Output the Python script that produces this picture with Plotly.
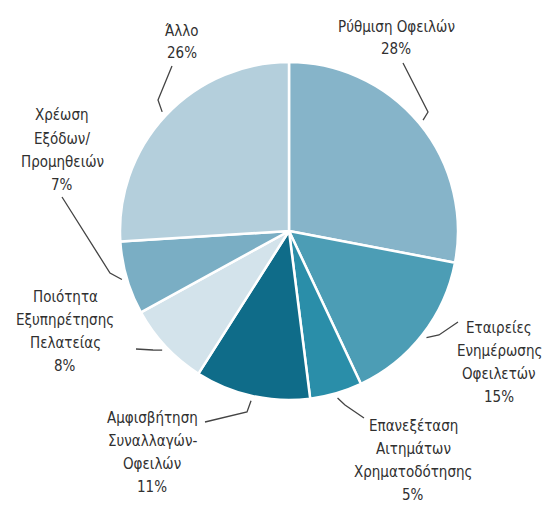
import math
import plotly.graph_objects as go

# slices, clockwise from 12 o'clock
labels = [
    "Ρύθμιση Οφειλών",
    "Εταιρείες Ενημέρωσης Οφειλετών",
    "Επανεξέταση Αιτημάτων Χρηματοδότησης",
    "Αμφισβήτηση Συναλλαγών-Οφειλών",
    "Ποιότητα Εξυπηρέτησης Πελατείας",
    "Χρέωση Εξόδων/Προμηθειών",
    "Άλλο",
]
label_lines = [
    ["Ρύθμιση Οφειλών"],
    ["Εταιρείες", "Ενημέρωσης", "Οφειλετών"],
    ["Επανεξέταση", "Αιτημάτων", "Χρηματοδότησης"],
    ["Αμφισβήτηση", "Συναλλαγών-", "Οφειλών"],
    ["Ποιότητα", "Εξυπηρέτησης", "Πελατείας"],
    ["Χρέωση", "Εξόδων/", "Προμηθειών"],
    ["Άλλο"],
]
values = [28, 15, 5, 11, 8, 7, 26]
colors = ["#86b4c9", "#4c9db5", "#2a8ea9", "#0f6c89", "#d3e3eb", "#7aaec4", "#b4cfdc"]

W, H = 552, 505
OFF = 8  # page body margin
CX, CY, R = 289, 231, 169
LINE_H = 23

# label block centres and leader elbow/end points (pixels in the reference)
text_pos = [(396, 38), (499, 362), (413, 460), (152, 452), (65, 331), (62, 150), (182, 42)]
elbows = [(428, 112), (439, 335), (345, 405), (247, 412), (153, 350), (110, 273), (158, 100)]
ends = [(403, 63), (458, 322), (364, 418), (205, 422), (136, 349), (62, 197), (172, 66)]


def px(x, y):
    return (x - OFF) / W, 1 - (y - OFF) / H


x0, y1 = px(CX - R, CY - R)
x1, y0 = px(CX + R, CY + R)

fig = go.Figure(go.Pie(
    labels=labels,
    values=values,
    sort=False,
    direction="clockwise",
    rotation=0,
    marker=dict(colors=colors, line=dict(color="white", width=2.5)),
    textinfo="none",
    hoverinfo="label+percent",
    domain=dict(x=[x0, x1], y=[y0, y1]),
))

total = sum(values)
cum = 0
shapes = []
annotations = []
for i, v in enumerate(values):
    mid = (cum + v / 2) / total * 2 * math.pi
    cum += v
    ex = CX + (R + 5) * math.sin(mid)
    ey = CY - (R + 5) * math.cos(mid)
    pts = [px(ex, ey), px(*elbows[i]), px(*ends[i])]
    path = "M {} {} L {} {} L {} {}".format(*[c for p in pts for c in p])
    shapes.append(dict(type="path", path=path, xref="paper", yref="paper",
                       line=dict(color="#444444", width=1.3)))
    lines = label_lines[i] + [f"{v}%"]
    n = len(lines)
    for k, line in enumerate(lines):
        tx, ty = px(text_pos[i][0], text_pos[i][1] + (k - (n - 1) / 2) * LINE_H)
        annotations.append(dict(
            x=tx, y=ty, xref="paper", yref="paper", showarrow=False,
            xanchor="center", yanchor="middle", text=line,
            font=dict(size=15, color="#303030",
                      family="Liberation Sans Narrow, DejaVu Sans Condensed, sans-serif"),
        ))

fig.update_layout(
    width=W, height=H,
    margin=dict(l=0, r=0, t=0, b=0),
    showlegend=False,
    paper_bgcolor="white",
    shapes=shapes,
    annotations=annotations,
)

fig.write_html("out.html")
